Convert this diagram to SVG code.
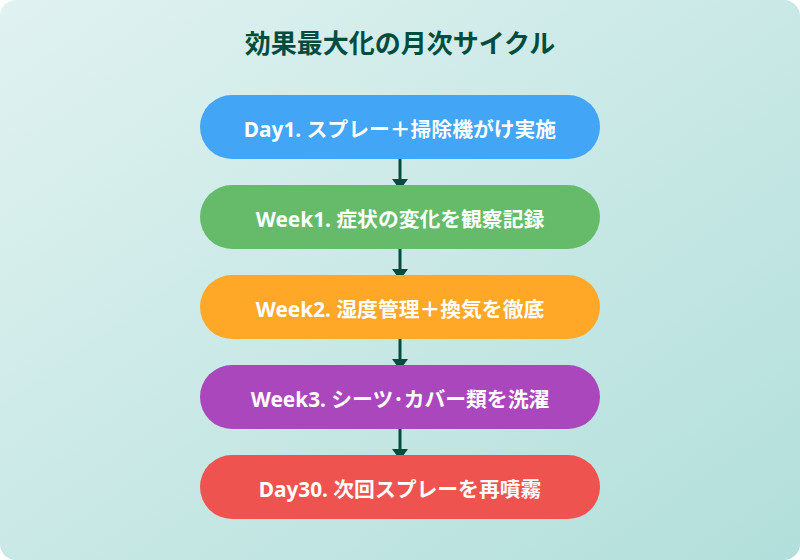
<svg xmlns="http://www.w3.org/2000/svg" width="800" height="560" viewBox="0 0 800 560">
  <defs>
    <linearGradient id="bg" x1="0" y1="0" x2="1" y2="1">
      <stop offset="0" stop-color="#e0f2f1"/>
      <stop offset="1" stop-color="#b2dfdb"/>
    </linearGradient>
    <marker id="arr" markerUnits="userSpaceOnUse" markerWidth="11" markerHeight="16" refX="0" refY="8" orient="auto" viewBox="0 0 11 16">
      <path d="M0,0 L11,8 L0,16 z" fill="#004d40"/>
    </marker>
  </defs>
  <style>
    .title { font-family: "Noto Sans", "Noto Sans CJK JP", sans-serif; font-size: 26px; font-weight: bold; fill: #004d40; }
    .label { font-family: "Noto Sans", "Noto Sans CJK JP", sans-serif; font-size: 20.8px; font-weight: bold; fill: #ffffff; }
    .conn { stroke: #004d40; stroke-width: 3; fill: none; }
  </style>
  <rect x="0" y="0" width="800" height="560" rx="16" ry="16" fill="url(#bg)"/>
  <text class="title" x="400" y="53" text-anchor="middle">効果最大化の月次サイクル</text>
  <g id="connectors">
    <line class="conn" x1="400" y1="159" x2="400" y2="179" marker-end="url(#arr)"/>
    <line class="conn" x1="400" y1="249" x2="400" y2="269" marker-end="url(#arr)"/>
    <line class="conn" x1="400" y1="339" x2="400" y2="359" marker-end="url(#arr)"/>
    <line class="conn" x1="400" y1="429" x2="400" y2="449" marker-end="url(#arr)"/>
  </g>
  <g id="node1">
    <rect x="200" y="95" width="400" height="64" rx="32" ry="32" fill="#42a5f5"/>
    <text class="label" x="400" y="137" text-anchor="middle">Day1. スプレー＋掃除機がけ実施</text>
  </g>
  <g id="node2">
    <rect x="200" y="185" width="400" height="64" rx="32" ry="32" fill="#66bb6a"/>
    <text class="label" x="400" y="227" text-anchor="middle">Week1. 症状の変化を観察記録</text>
  </g>
  <g id="node3">
    <rect x="200" y="275" width="400" height="64" rx="32" ry="32" fill="#ffa726"/>
    <text class="label" x="400" y="317" text-anchor="middle">Week2. 湿度管理＋換気を徹底</text>
  </g>
  <g id="node4">
    <rect x="200" y="365" width="400" height="64" rx="32" ry="32" fill="#ab47bc"/>
    <text class="label" x="400" y="407" text-anchor="middle">Week3. シーツ･カバー類を洗濯</text>
  </g>
  <g id="node5">
    <rect x="200" y="455" width="400" height="64" rx="32" ry="32" fill="#ef5350"/>
    <text class="label" x="400" y="497" text-anchor="middle">Day30. 次回スプレーを再噴霧</text>
  </g>
</svg>
